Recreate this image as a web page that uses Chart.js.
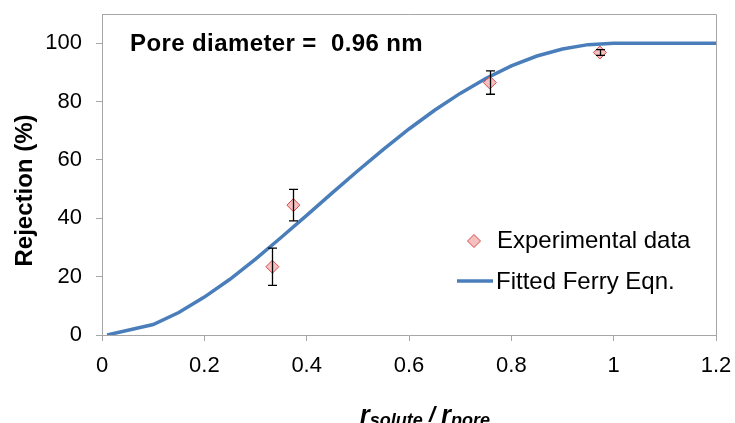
<!DOCTYPE html>
<html>
<head>
<meta charset="utf-8">
<script src="https://cdn.jsdelivr.net/npm/chart.js@4/dist/chart.umd.min.js"></script>
<style>
  html, body { margin: 0; padding: 0; background: #fff; }
  #wrap { width: 735px; height: 423px; position: relative; }
</style>
</head>
<body>
<div id="wrap"><canvas id="c"></canvas></div>
<script>
// Fitted Ferry equation curve (r_solute / r_pore vs rejection %)
const curveX = [0.01, 0.10, 0.15, 0.20, 0.25, 0.30, 0.35, 0.40, 0.45, 0.50, 0.55, 0.60, 0.65, 0.70, 0.75, 0.80, 0.85, 0.90, 0.95, 1.00, 1.20];
const curveY = [0.0, 3.6, 7.7, 13.0, 19.1, 26.0, 33.4, 41.0, 48.7, 56.3, 63.6, 70.6, 77.0, 82.8, 87.9, 92.2, 95.6, 98.0, 99.5, 100.0, 100.0];

// Experimental rejection with error ranges
const expX = [0.333, 0.374, 0.758, 0.973];
const expY = [23.4, 44.5, 86.5, 96.8];
const expErr = [6.4, 5.4, 4.0, 1.0];

// Axis ticks
const xTicks = [0, 0.2, 0.4, 0.6, 0.8, 1.0, 1.2];
const yTicks = [0, 20, 40, 60, 80, 100];

const seriesNames = ['Experimental data', 'Fitted Ferry Eqn.'];
const annotation = 'Pore diameter =  0.96 nm';

const FONT = "'Liberation Sans', Arial, sans-serif";
const AXIS_GREY = '#a6a6a6';
const LINE_BLUE = '#4a7ebb';
const MARK_EDGE = '#d84a4a';
const MARK_FILL = 'rgba(240, 150, 150, 0.6)';

const errorBars = {
  id: 'errorBars',
  afterDatasetsDraw(chart) {
    const { ctx, scales: { x, y } } = chart;
    ctx.save();
    ctx.strokeStyle = '#000';
    ctx.lineWidth = 1.3;
    for (let i = 0; i < expX.length; i++) {
      const px = Math.round(x.getPixelForValue(expX[i])) + 0.5;
      const t = y.getPixelForValue(expY[i] + expErr[i]);
      const b = y.getPixelForValue(expY[i] - expErr[i]);
      ctx.beginPath();
      ctx.moveTo(px, t); ctx.lineTo(px, b);
      ctx.moveTo(px - 4.5, t); ctx.lineTo(px + 4.5, t);
      ctx.moveTo(px - 4.5, b); ctx.lineTo(px + 4.5, b);
      ctx.stroke();
    }
    ctx.restore();
  }
};

const decorations = {
  id: 'decorations',
  beforeDatasetsDraw(chart) {
    const { ctx, chartArea: a } = chart;
    // plot frame on top and right
    ctx.save();
    ctx.strokeStyle = AXIS_GREY;
    ctx.lineWidth = 1;
    ctx.beginPath();
    ctx.moveTo(Math.round(a.left) + 0.5, Math.round(a.top) + 0.5);
    ctx.lineTo(Math.round(a.right) + 0.5, Math.round(a.top) + 0.5);
    ctx.lineTo(Math.round(a.right) + 0.5, Math.round(a.bottom) + 0.5);
    ctx.stroke();
    ctx.restore();
  },
  afterDraw(chart) {
    const { ctx, chartArea: a } = chart;
    ctx.save();
    ctx.fillStyle = '#000';
    ctx.textBaseline = 'alphabetic';

    // annotation inside the plot
    ctx.font = `bold 24px ${FONT}`;
    ctx.textAlign = 'left';
    if ('letterSpacing' in ctx) ctx.letterSpacing = '0.4px';
    ctx.fillText(annotation, a.left + 28, a.top + 37);
    if ('letterSpacing' in ctx) ctx.letterSpacing = '0px';

    // legend
    const lx = a.left + 372, ly1 = a.top + 227, ly2 = a.top + 267;
    ctx.beginPath();
    ctx.moveTo(lx, ly1 - 6.5); ctx.lineTo(lx + 6.5, ly1); ctx.lineTo(lx, ly1 + 6.5); ctx.lineTo(lx - 6.5, ly1); ctx.closePath();
    ctx.fillStyle = MARK_FILL; ctx.fill();
    ctx.strokeStyle = MARK_EDGE; ctx.lineWidth = 1; ctx.stroke();
    ctx.strokeStyle = LINE_BLUE; ctx.lineWidth = 3.5;
    ctx.beginPath(); ctx.moveTo(lx - 17, ly2); ctx.lineTo(lx + 19, ly2); ctx.stroke();
    ctx.fillStyle = '#000';
    ctx.font = `24px ${FONT}`;
    ctx.textBaseline = 'middle';
    ctx.fillText(seriesNames[0], lx + 23, ly1);
    ctx.fillText(seriesNames[1], lx + 22, ly2 + 1);

    // y-axis title
    ctx.save();
    ctx.translate(32, (a.top + a.bottom) / 2 + 16);
    ctx.rotate(-Math.PI / 2);
    ctx.textAlign = 'center';
    ctx.textBaseline = 'alphabetic';
    ctx.font = `bold 24px ${FONT}`;
    ctx.fillText('Rejection (%)', 0, 0);
    ctx.restore();

    // x-axis title: r_solute / r_pore
    const parts = [
      { t: 'r', f: `italic bold 25px ${FONT}`, dy: 0 },
      { t: 'solute', f: `italic bold 18px ${FONT}`, dy: 5 },
      { t: ' / ', f: `italic bold 22px ${FONT}`, dy: 0 },
      { t: 'r', f: `italic bold 25px ${FONT}`, dy: 0 },
      { t: 'pore', f: `italic bold 18px ${FONT}`, dy: 5 }
    ];
    let total = 0;
    parts.forEach(p => { ctx.font = p.f; p.w = ctx.measureText(p.t).width; total += p.w; });
    let cx = (a.left + a.right) / 2 + 16 - total / 2;
    const base = 416;
    ctx.textAlign = 'left';
    parts.forEach(p => { ctx.font = p.f; ctx.fillText(p.t, cx, base + p.dy); cx += p.w; });
    ctx.restore();
  }
};

new Chart(document.getElementById('c'), {
  type: 'scatter',
  data: {
    datasets: [
      {
        label: seriesNames[0],
        data: expX.map((v, i) => ({ x: v, y: expY[i] })),
        pointStyle: 'rectRot',
        pointRadius: 6.5,
        pointHoverRadius: 6.5,
        pointBackgroundColor: MARK_FILL,
        pointBorderColor: MARK_EDGE,
        pointBorderWidth: 1,
        showLine: false
      },
      {
        label: seriesNames[1],
        data: curveX.map((v, i) => ({ x: v, y: curveY[i] })),
        showLine: true,
        borderColor: LINE_BLUE,
        borderWidth: 3.5,
        pointRadius: 0,
        pointHoverRadius: 0,
        tension: 0,
        fill: false
      }
    ]
  },
  options: {
    responsive: true,
    maintainAspectRatio: false,
    animation: false,
    events: [],
    layout: { padding: { top: 14, right: 19, left: 0, bottom: 0 } },
    plugins: { legend: { display: false }, title: { display: false }, tooltip: { enabled: false } },
    scales: {
      x: {
        type: 'linear',
        min: 0, max: 1.2,
        afterBuildTicks(s) { s.ticks = xTicks.map(v => ({ value: v })); },
        afterFit(s) { s.height = 88; s.paddingLeft = 0; s.paddingRight = 0; },
        grid: { display: true, drawOnChartArea: false, drawTicks: true, tickLength: 6, color: AXIS_GREY },
        border: { display: true, color: AXIS_GREY, width: 1 },
        ticks: {
          padding: 12,
          color: '#000',
          font: { family: FONT, size: 22 },
          maxRotation: 0,
          callback: v => String(+Number(v).toFixed(1))
        }
      },
      y: {
        type: 'linear',
        min: 0, max: 110,
        afterBuildTicks(s) { s.ticks = yTicks.map(v => ({ value: v })); },
        afterFit(s) { s.width = 102; s.paddingTop = 0; s.paddingBottom = 0; },
        grid: { display: true, drawOnChartArea: false, drawTicks: true, tickLength: 6, color: AXIS_GREY },
        border: { display: true, color: AXIS_GREY, width: 1 },
        ticks: {
          padding: 14,
          color: '#000',
          font: { family: FONT, size: 22 },
          callback: v => String(v)
        }
      }
    }
  },
  plugins: [decorations, errorBars]
});
</script>
</body>
</html>
